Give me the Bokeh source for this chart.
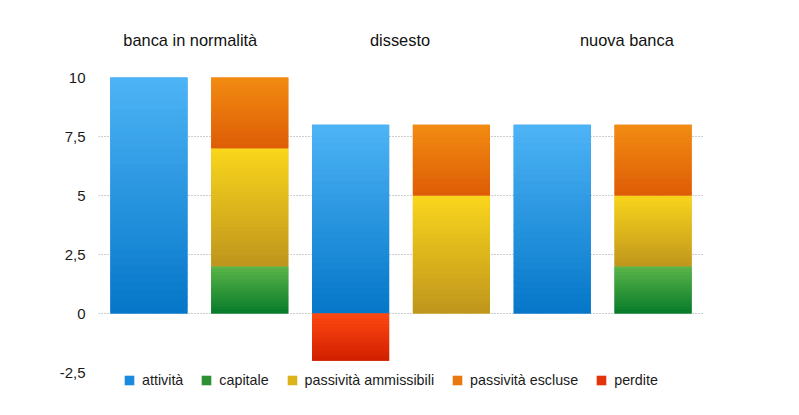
from bokeh.plotting import figure
from bokeh.models import ColumnDataSource, Range1d, FixedTicker, Legend, LegendItem
from bokeh.core.properties import value
from bokeh.embed import file_html
from bokeh.resources import INLINE

# ---- data ----
groups = ["banca in normalità", "dissesto", "nuova banca"]
attivita = [10, 8, 8]
perdite = [0, -2, 0]
capitale = [2, 0, 2]
passivita_ammissibili = [5, 5, 3]
passivita_escluse = [3, 3, 3]
y_ticks = [-2.5, 0, 2.5, 5, 7.5, 10]
y_tick_labels = ["-2,5", "0", "2,5", "5", "7,5", "10"]

FONT = "Liberation Sans"

# series styles: (top colour, bottom colour, legend colour)
styles = {
    "attività": ("#4db4f6", "#0576c8", "#1a8ade"),
    "capitale": ("#5db648", "#067a2b", "#2c9035"),
    "passività ammissibili": ("#fad61c", "#bf951c", "#dcb31a"),
    "passività escluse": ("#f28c12", "#de5c06", "#e97810"),
    "perdite": ("#ff4a12", "#d01e00", "#e4320a"),
}

BAR_W = 0.765

p = figure(width=783, height=399, output_backend="svg", toolbar_location=None,
           x_range=Range1d(-0.5, 5.5), y_range=Range1d(-3.644, 13.263),
           min_border_left=98, min_border_right=80, min_border_top=0, min_border_bottom=0)
p.outline_line_color = None
p.background_fill_color = "white"
p.border_fill_color = "white"
p.xaxis.visible = False
p.xgrid.visible = False

yax = p.yaxis[0]
yax.ticker = FixedTicker(ticks=y_ticks)
yax.major_label_overrides = {t: l for t, l in zip(y_ticks, y_tick_labels)}
yax.axis_line_color = None
yax.major_tick_line_color = None
yax.minor_tick_line_color = None
yax.major_tick_out = 0
yax.major_tick_in = 0
yax.major_label_standoff = 13
yax.major_label_text_font = FONT
yax.major_label_text_font_size = "15px"
yax.major_label_text_color = "#1a1a1a"

p.ygrid.ticker = FixedTicker(ticks=[0, 2.5, 5, 7.5])
p.ygrid.grid_line_color = "#9a9a9a"
p.ygrid.grid_line_dash = "1 2"
p.ygrid.grid_line_width = 1


def hex2rgb(h):
    h = h.lstrip("#")
    return tuple(int(h[i:i + 2], 16) for i in (0, 2, 4))


def mix(c1, c2, t):
    a, b = hex2rgb(c1), hex2rgb(c2)
    return "#%02x%02x%02x" % tuple(int(round(a[i] + (b[i] - a[i]) * t)) for i in range(3))


# build segments from data
segments = {k: {"x": [], "bottom": [], "top": []} for k in styles}
for g in range(len(groups)):
    xa = 2 * g
    xl = 2 * g + 1
    if attivita[g]:
        segments["attività"]["x"].append(xa)
        segments["attività"]["bottom"].append(0)
        segments["attività"]["top"].append(attivita[g])
    if perdite[g]:
        segments["perdite"]["x"].append(xa)
        segments["perdite"]["bottom"].append(perdite[g])
        segments["perdite"]["top"].append(0)
    base = 0
    for name, vals in (("capitale", capitale), ("passività ammissibili", passivita_ammissibili),
                       ("passività escluse", passivita_escluse)):
        if vals[g]:
            segments[name]["x"].append(xl)
            segments[name]["bottom"].append(base)
            segments[name]["top"].append(base + vals[g])
            base += vals[g]

items = []
N = 30
for name, (ctop, cbot, cleg) in styles.items():
    seg = segments[name]
    src = ColumnDataSource(data=seg)
    r = p.vbar(x="x", bottom="bottom", top="top", width=BAR_W, source=src,
               fill_color=cleg, line_color=None)
    # gradient overlay strips derived from the segment values
    gx, gb, gt, gc = [], [], [], []
    for x, b, t in zip(seg["x"], seg["bottom"], seg["top"]):
        h = (t - b) / N
        for k in range(N):
            gx.append(x)
            gb.append(b + h * k)
            gt.append(min(t, b + h * (k + 1) + h * 0.15))
            gc.append(mix(cbot, ctop, (k + 0.5) / N))
    p.vbar(x=gx, bottom=gb, top=gt, width=BAR_W, fill_color=gc, line_color=None)
    items.append(LegendItem(label=name, renderers=[r]))

legend = Legend(items=items, orientation="horizontal", location=(25, 11))
legend.border_line_color = None
legend.background_fill_alpha = 0
legend.padding = 0
legend.margin = 0
legend.spacing = 17
legend.glyph_width = 12
legend.glyph_height = 12
legend.label_standoff = 7
legend.label_text_font = FONT
legend.label_text_font_size = "14.3px"
legend.label_text_color = "#1a1a1a"
legend.label_height = 12
p.add_layout(legend, "center")

# group titles
title_x = [0.41, 2.49, 4.74]
title_y = [11.57] * 3
p.text(x=title_x, y=title_y, text=groups, text_font=value(FONT), text_font_size=value("16.4px"),
       text_align="center", text_baseline="middle", text_color="#111111")

open("out.html", "w").write(file_html(p, INLINE))
